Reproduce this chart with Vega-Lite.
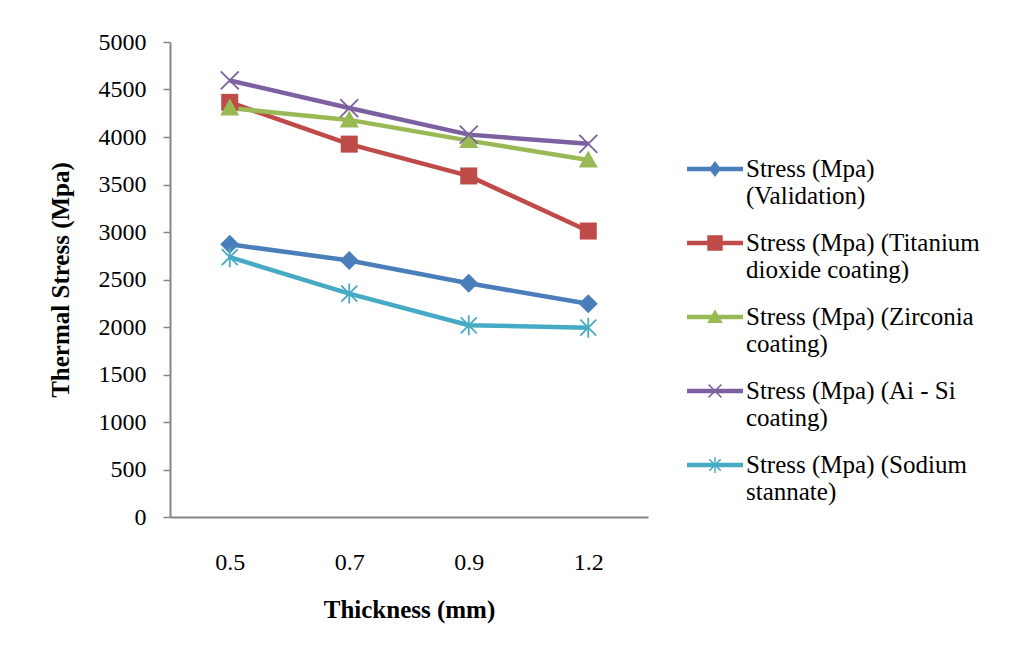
{
  "$schema": "https://vega.github.io/schema/vega-lite/v6.json",
  "width": 478,
  "height": 475,
  "autosize": "none",
  "padding": {"left": 170, "top": 42, "right": 362, "bottom": 135},
  "background": "white",
  "config": {"view": {"stroke": null}, "font": "Liberation Serif"},
  "data": {
    "values": [
      {"thickness": 0.5, "series": "Stress (Mpa) (Validation)", "stress": 2870},
      {"thickness": 0.7, "series": "Stress (Mpa) (Validation)", "stress": 2700},
      {"thickness": 0.9, "series": "Stress (Mpa) (Validation)", "stress": 2460},
      {"thickness": 1.2, "series": "Stress (Mpa) (Validation)", "stress": 2245},
      {"thickness": 0.5, "series": "Stress (Mpa) (Titanium dioxide coating)", "stress": 4365},
      {"thickness": 0.7, "series": "Stress (Mpa) (Titanium dioxide coating)", "stress": 3925},
      {"thickness": 0.9, "series": "Stress (Mpa) (Titanium dioxide coating)", "stress": 3590},
      {"thickness": 1.2, "series": "Stress (Mpa) (Titanium dioxide coating)", "stress": 3010},
      {"thickness": 0.5, "series": "Stress (Mpa) (Zirconia coating)", "stress": 4305},
      {"thickness": 0.7, "series": "Stress (Mpa) (Zirconia coating)", "stress": 4180},
      {"thickness": 0.9, "series": "Stress (Mpa) (Zirconia coating)", "stress": 3962},
      {"thickness": 1.2, "series": "Stress (Mpa) (Zirconia coating)", "stress": 3758},
      {"thickness": 0.5, "series": "Stress (Mpa) (Ai - Si coating)", "stress": 4595},
      {"thickness": 0.7, "series": "Stress (Mpa) (Ai - Si coating)", "stress": 4305},
      {"thickness": 0.9, "series": "Stress (Mpa) (Ai - Si coating)", "stress": 4025},
      {"thickness": 1.2, "series": "Stress (Mpa) (Ai - Si coating)", "stress": 3928},
      {"thickness": 0.5, "series": "Stress (Mpa) (Sodium stannate)", "stress": 2735},
      {"thickness": 0.7, "series": "Stress (Mpa) (Sodium stannate)", "stress": 2352},
      {"thickness": 0.9, "series": "Stress (Mpa) (Sodium stannate)", "stress": 2018},
      {"thickness": 1.2, "series": "Stress (Mpa) (Sodium stannate)", "stress": 1993}
    ]
  },
  "encoding": {
    "x": {
      "field": "thickness",
      "type": "ordinal",
      "scale": {"padding": 0.5},
      "axis": {
        "title": "Thickness (mm)",
        "titleFont": "Liberation Serif",
        "titleFontSize": 25,
        "titleFontWeight": "bold",
        "titleColor": "black",
        "titlePadding": 23,
        "labelFont": "Liberation Serif",
        "labelFontSize": 24,
        "labelColor": "black",
        "labelAngle": 0,
        "labelPadding": 33,
        "ticks": false,
        "domainColor": "#868686",
        "domainWidth": 2
      }
    },
    "y": {
      "field": "stress",
      "type": "quantitative",
      "scale": {"domain": [0, 5000], "nice": false, "zero": true},
      "axis": {
        "title": "Thermal Stress (Mpa)",
        "titleFont": "Liberation Serif",
        "titleFontSize": 25,
        "titleFontWeight": "bold",
        "titleColor": "black",
        "titlePadding": 25,
        "values": [0, 500, 1000, 1500, 2000, 2500, 3000, 3500, 4000, 4500, 5000],
        "format": "d",
        "labelFont": "Liberation Serif",
        "labelFontSize": 24,
        "labelColor": "black",
        "labelPadding": 17,
        "tickSize": 7,
        "tickColor": "#868686",
        "tickWidth": 1.5,
        "grid": false,
        "domainColor": "#868686",
        "domainWidth": 2
      }
    },
    "color": {
      "field": "series",
      "type": "nominal",
      "scale": {
        "domain": ["Stress (Mpa) (Validation)", "Stress (Mpa) (Titanium dioxide coating)", "Stress (Mpa) (Zirconia coating)", "Stress (Mpa) (Ai - Si coating)", "Stress (Mpa) (Sodium stannate)"],
        "range": ["#4A7EBB", "#BE4B48", "#98B954", "#7D60A0", "#46AAC5"]
      },
      "legend": null
    }
  },
  "layer": [
    {
      "transform": [{"filter": "datum.stress < 0"}],
      "mark": {"type": "point", "filled": true, "opacity": 1},
      "encoding": {
        "color": {
          "field": "series",
          "type": "nominal",
          "scale": {
            "domain": ["Stress (Mpa) (Validation)", "Stress (Mpa) (Titanium dioxide coating)", "Stress (Mpa) (Zirconia coating)", "Stress (Mpa) (Ai - Si coating)", "Stress (Mpa) (Sodium stannate)"],
            "range": ["#4A7EBB", "#BE4B48", "#98B954", "#7D60A0", "#46AAC5"]
          },
          "legend": {
            "orient": "none",
            "legendX": 531,
            "legendY": 113,
            "title": null,
            "padding": 0,
            "labelFont": "Liberation Serif",
            "labelFontSize": 25,
            "labelColor": "black",
            "labelLimit": 400,
            "labelOffset": 17,
            "labelBaseline": "middle",
            "rowPadding": 20,
            "symbolSize": 784,
            "symbolOpacity": 1,
            "symbolStrokeWidth": 0,
            "labelExpr": "datum.label == 'Stress (Mpa) (Validation)' ? ['Stress (Mpa)', '(Validation)'] : datum.label == 'Stress (Mpa) (Titanium dioxide coating)' ? ['Stress (Mpa) (Titanium', 'dioxide coating)'] : datum.label == 'Stress (Mpa) (Zirconia coating)' ? ['Stress (Mpa) (Zirconia', 'coating)'] : datum.label == 'Stress (Mpa) (Ai - Si coating)' ? ['Stress (Mpa) (Ai - Si', 'coating)'] : ['Stress (Mpa) (Sodium', 'stannate)']"
          }
        },
        "shape": {
          "field": "series",
          "type": "nominal",
          "scale": {
            "domain": ["Stress (Mpa) (Validation)", "Stress (Mpa) (Titanium dioxide coating)", "Stress (Mpa) (Zirconia coating)", "Stress (Mpa) (Ai - Si coating)", "Stress (Mpa) (Sodium stannate)"],
            "range": [
              "M-2,-0.16L2,-0.16L2,0.16L-2,0.16Z M-0.43,0L0,-0.58L0.43,0L0,0.58Z",
              "M-2,-0.16L2,-0.16L2,0.16L-2,0.16Z M-0.55,-0.55L0.55,-0.55L0.55,0.55L-0.55,0.55Z",
              "M-2,-0.16L2,-0.16L2,0.16L-2,0.16Z M0,-0.55L0.55,0.42L-0.55,0.42Z",
              "M-2,-0.16L2,-0.16L2,0.16L-2,0.16Z M-0.5,-0.42L-0.42,-0.5L0.5,0.42L0.42,0.5Z M-0.5,0.42L0.42,-0.5L0.5,-0.42L-0.42,0.5Z",
              "M-2,-0.16L2,-0.16L2,0.16L-2,0.16Z M-0.45,-0.37L-0.37,-0.45L0.45,0.37L0.37,0.45Z M-0.45,0.37L0.37,-0.45L0.45,-0.37L-0.37,0.45Z M-0.05,-0.58L0.05,-0.58L0.05,0.58L-0.05,0.58Z"
            ]
          },
          "legend": null
        }
      }
    },
    {"mark": {"type": "line", "strokeWidth": 4.5}},
    {
      "transform": [{"filter": "datum.series == 'Stress (Mpa) (Validation)'"}],
      "mark": {"type": "point", "filled": true, "size": 400, "opacity": 1, "shape": "M-0.95,0L0,-0.95L0.95,0L0,0.95Z"}
    },
    {
      "transform": [{"filter": "datum.series == 'Stress (Mpa) (Titanium dioxide coating)'"}],
      "mark": {"type": "point", "filled": true, "size": 400, "opacity": 1, "shape": "M-0.85,-0.85L0.85,-0.85L0.85,0.85L-0.85,0.85Z"}
    },
    {
      "transform": [{"filter": "datum.series == 'Stress (Mpa) (Zirconia coating)'"}],
      "mark": {"type": "point", "filled": true, "size": 400, "opacity": 1, "shape": "M0,-0.95L0.95,0.75L-0.95,0.75Z"}
    },
    {
      "transform": [{"filter": "datum.series == 'Stress (Mpa) (Ai - Si coating)'"}],
      "mark": {"type": "point", "filled": false, "size": 400, "opacity": 1, "strokeWidth": 1.8, "shape": "M-0.9,-0.9L0.9,0.9M-0.9,0.9L0.9,-0.9"}
    },
    {
      "transform": [{"filter": "datum.series == 'Stress (Mpa) (Sodium stannate)'"}],
      "mark": {"type": "point", "filled": false, "size": 400, "opacity": 1, "strokeWidth": 1.8, "shape": "M-0.8,-0.8L0.8,0.8M-0.8,0.8L0.8,-0.8M0,-1L0,1"}
    }
  ]
}
